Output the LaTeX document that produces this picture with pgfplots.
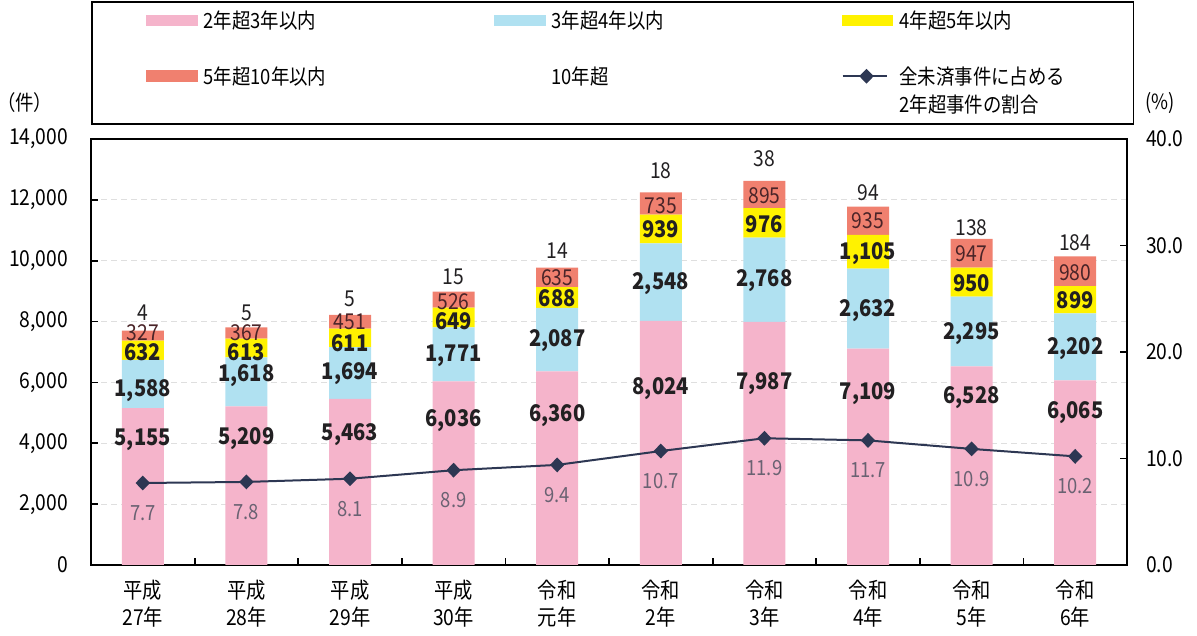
\documentclass[border=0pt]{standalone}
\usepackage{fontspec}
\setmainfont{Noto Sans CJK JP}[FakeStretch=0.88]
\usepackage{pgfplots}
\pgfplotsset{compat=1.18}

\definecolor{c23}{HTML}{F5B4CB}
\definecolor{c34}{HTML}{B0E1F1}
\definecolor{c45}{HTML}{FFF200}
\definecolor{c510}{HTML}{F0806F}
\definecolor{linec}{HTML}{2D3753}
\definecolor{pctc}{HTML}{6A6272}
\definecolor{labc}{HTML}{222022}
\definecolor{labr}{HTML}{4A2428}

\newcommand\fTick{\fontsize{11}{13.5}\selectfont}
\newcommand\fLab{\fontsize{11.5}{13}\selectfont\bfseries}
\newcommand\fSmall{\fontsize{10.5}{13}\selectfont}

\begin{document}
\begin{tikzpicture}
\useasboundingbox (0,0) rectangle (598.5bp,318bp);
\pgfplotsset{
  base/.style={at={(45.5bp,35.5bp)}, anchor=south west,
    width=518bp, height=213bp, scale only axis,
    xmin=-0.5, xmax=9.5},
  lab/.style={draw=none, mark=none, nodes near coords,
    point meta=explicit symbolic,
    nodes near coords style={anchor=center, font=\fLab, text=labc, inner sep=0pt}},
}

% bars
\begin{axis}[base, ymin=0, ymax=14000,
  ybar stacked, bar width=21bp,
  ytick={0,2000,...,14000}, ytick pos=left,
  xtick={0.5,1.5,...,8.5}, xticklabels={}, xtick pos=bottom,
  tick align=inside, major tick length=3.5bp,
  ymajorgrids, grid style={gray!25, dash pattern=on 3bp off 2bp, line width=0.5bp},
  axis line style={line width=0.9bp}, tick style={line width=0.9bp, black},
  scaled y ticks=false,
  /pgf/number format/assume math mode=true,
  /pgf/number format/1000 sep={,},
  yticklabel style={font=\fTick, xshift=-8bp},
]
\addplot[fill=c23, draw=none] coordinates {
  (0,5155) (1,5209) (2,5463) (3,6036) (4,6360)
  (5,8024) (6,7987) (7,7109) (8,6528) (9,6065)};
\addplot[fill=c34, draw=none] coordinates {
  (0,1588) (1,1618) (2,1694) (3,1771) (4,2087)
  (5,2548) (6,2768) (7,2632) (8,2295) (9,2202)};
\addplot[fill=c45, draw=none] coordinates {
  (0,632) (1,613) (2,611) (3,649) (4,688)
  (5,939) (6,976) (7,1105) (8,950) (9,899)};
\addplot[fill=c510, draw=none] coordinates {
  (0,327) (1,367) (2,451) (3,526) (4,635)
  (5,735) (6,895) (7,935) (8,947) (9,980)};
% 10年超 (not coloured)
\addplot[fill=none, draw=none] coordinates {
  (0,4) (1,5) (2,5) (3,15) (4,14)
  (5,18) (6,38) (7,94) (8,138) (9,184)};
\end{axis}

% segment labels and category names
\begin{axis}[base, ymin=0, ymax=14000, clip mode=individual,
  axis line style={draw=none}, ytick=\empty,
  xtick={0,...,9}, major tick length=0pt, tick style={draw=none},
  xticklabels={{平成\\27年},{平成\\28年},{平成\\29年},{平成\\30年},{令和\\元年},
    {令和\\2年},{令和\\3年},{令和\\4年},{令和\\5年},{令和\\6年}},
  xticklabel style={align=center, font=\fTick, yshift=-4bp},
]
\addplot[lab] coordinates {
  (0,4100)[5,155] (1,4150)[5,209] (2,4300)[5,463] (3,4750)[6,036] (4,4920)[6,360]
  (5,5800)[8,024] (6,5970)[7,987] (7,5640)[7,109] (8,5510)[6,528] (9,5020)[6,065]};
\addplot[lab] coordinates {
  (0,5740)[1,588] (1,6230)[1,618] (2,6300)[1,694] (3,6885)[1,771] (4,7377)[2,087]
  (5,9250)[2,548] (6,9344)[2,768] (7,8361)[2,632] (8,7606)[2,295] (9,7115)[2,202]};
\addplot[lab] coordinates {
  (0,6990)[632] (1,6990)[613] (2,7290)[611] (3,8010)[649] (4,8754)[688]
  (5,11049)[939] (6,11213)[976] (7,10230)[1,105] (8,9246)[950] (9,8688)[899]};
\addplot[lab, nodes near coords style={font=\fontsize{11}{13}\selectfont, text=labr}] coordinates {
  (0,7640)[327] (1,7640)[367] (2,7990)[451] (3,8660)[526] (4,9430)[635]
  (5,11803)[735] (6,12131)[895] (7,11311)[935] (8,10230)[947] (9,9607)[980]};
% 10年超 counts above the bars
\addplot[lab, nodes near coords style={font=\fTick, text=labc}] coordinates {
  (0,8300)[4] (1,8300)[5] (2,8760)[5] (3,9470)[15] (4,10328)[14]
  (5,12951)[18] (6,13344)[38] (7,12230)[94] (8,11082)[138] (9,10590)[184]};
\end{axis}

% share line, right axis, legend
\begin{axis}[base, ymin=0, ymax=40, clip mode=individual,
  axis line style={draw=none}, xtick=\empty,
  ytick={0,10,...,40}, ytick pos=right,
  tick align=inside, major tick length=3.5bp,
  tick style={line width=0.9bp, black},
  /pgf/number format/assume math mode=true,
  /pgf/number format/.cd, fixed, fixed zerofill, precision=1, /pgfplots/.cd,
  yticklabel style={font=\fTick, xshift=6bp},
  legend columns=3,
  legend style={at={(0,1)}, anchor=south west, yshift=7bp,
    draw=black, line width=0.9bp,
    inner xsep=0bp, inner ysep=4.3bp, row sep=17.5bp, column sep=0bp,
    font=\fontsize{10.5}{14}\selectfont,
    nodes={inner xsep=3bp, inner ysep=0bp, anchor=base west}},
]
\addlegendimage{legend image code/.code={\path (-27bp,4bp); \fill[c23] (0bp,1.5bp) rectangle (25bp,6.5bp);}}
\addlegendentry{\makebox[142bp][l]{2年超3年以内}}
\addlegendimage{legend image code/.code={\fill[c34] (0bp,1.5bp) rectangle (25bp,6.5bp);}}
\addlegendentry{\makebox[142bp][l]{3年超4年以内}}
\addlegendimage{legend image code/.code={\fill[c45] (0bp,1.5bp) rectangle (25bp,6.5bp);}}
\addlegendentry{\makebox[114bp][l]{4年超5年以内}}
\addlegendimage{legend image code/.code={\path (-27bp,4bp); \fill[c510] (0bp,1.5bp) rectangle (25bp,6.5bp);}}
\addlegendentry{\makebox[142bp][l]{5年超10年以内}}
\addlegendimage{legend image code/.code={\path (0bp,4bp) (25bp,4bp);}}
\addlegendentry{\makebox[142bp][l]{10年超}}
\addlegendimage{legend image code/.code={\path (0bp,-15.2bp);
  \draw[linec, line width=1bp, mark=diamond*, mark size=3bp,
  mark options={xscale=1.3}, mark repeat=2, mark phase=2] plot coordinates {(0bp,4bp) (12bp,4bp) (22bp,4bp)};}}
\addlegendentry{\parbox[t]{114bp}{全未済事件に占める\\2年超事件の割合}}

\addplot[linec, line width=1bp, mark=diamond*, mark size=3bp, mark options={xscale=1.3},
  nodes near coords, point meta=explicit symbolic,
  nodes near coords style={anchor=center, yshift=-15bp, font=\fSmall, text=pctc}] coordinates {
  (0,7.7)[7.7] (1,7.8)[7.8] (2,8.1)[8.1] (3,8.9)[8.9] (4,9.4)[9.4]
  (5,10.7)[10.7] (6,11.9)[11.9] (7,11.7)[11.7] (8,10.9)[10.9] (9,10.2)[10.2]};

\node[font=\fSmall] at (axis description cs:-0.064,1.085) {（件）};
\node[font=\fSmall] at (axis description cs:1.032,1.085) {(\%)};
\end{axis}
\end{tikzpicture}
\end{document}
